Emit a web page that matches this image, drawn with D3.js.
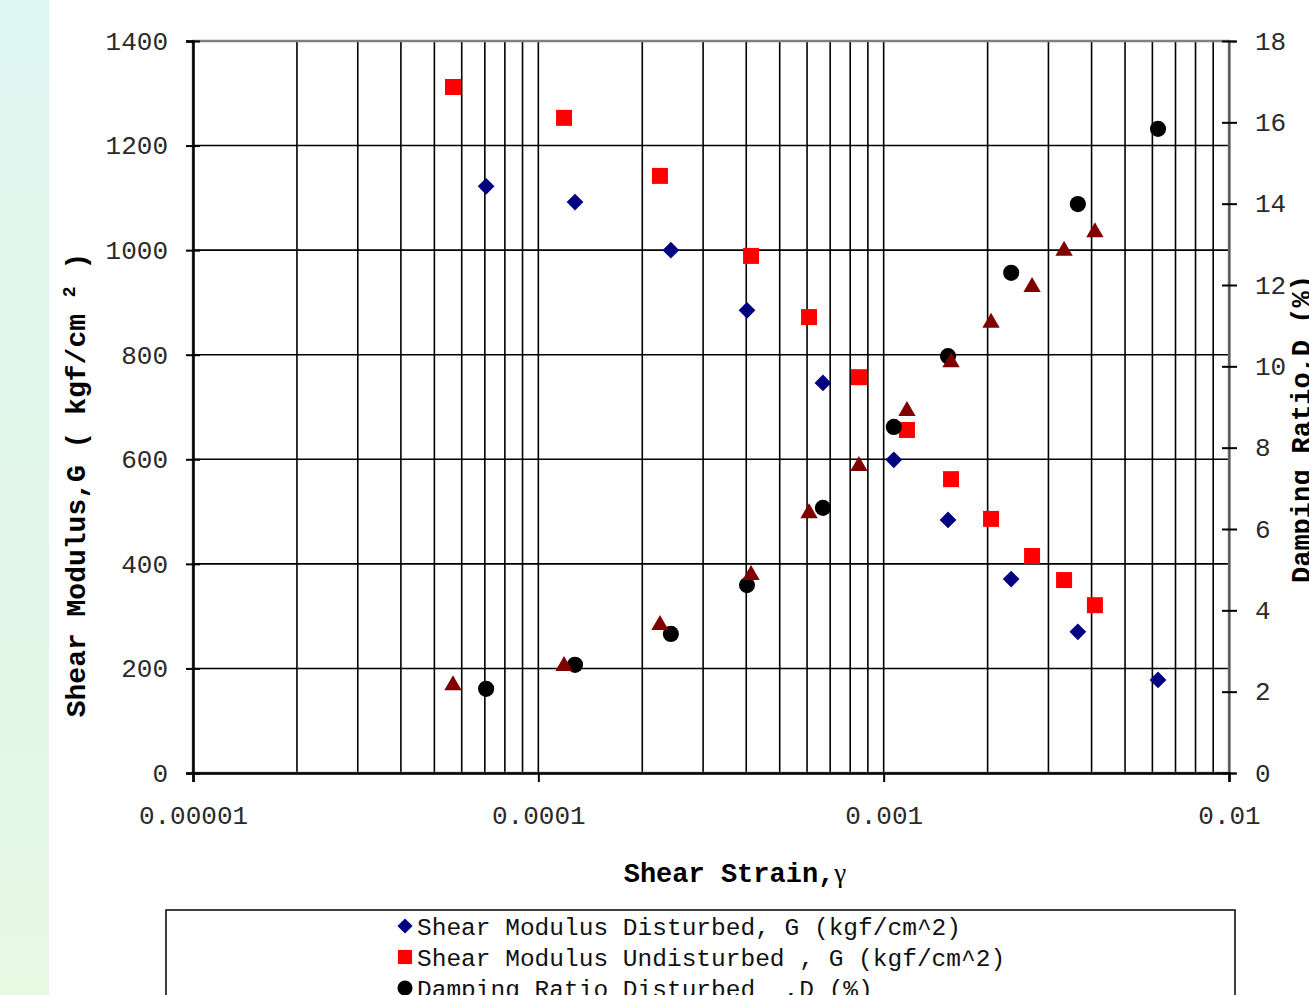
<!DOCTYPE html>
<html>
<head>
<meta charset="utf-8">
<script src="https://cdn.jsdelivr.net/npm/d3@7"></script>
<style>
  body { margin: 0; background: #fff; }
  svg { display: block; font-family: "Liberation Mono", "Courier New", monospace; }
  text { white-space: pre; }
</style>
</head>
<body>
<div id="chart"></div>
<script>
// values
const strainDisturbed = [7.06e-5, 1.277e-4, 2.42e-4, 4.02e-4, 6.67e-4, 1.07e-3, 1.536e-3, 2.34e-3, 3.65e-3, 6.23e-3];
const gDisturbed = [1122, 1092, 1000, 885, 746, 599, 484, 371, 270, 178];
const dDisturbed = [2.07, 2.66, 3.42, 4.62, 6.52, 8.51, 10.25, 12.3, 13.99, 15.84];

const strainUndisturbed = [5.66e-5, 1.187e-4, 2.25e-4, 4.13e-4, 6.08e-4, 8.48e-4, 1.168e-3, 1.567e-3, 2.046e-3, 2.69e-3, 3.33e-3, 4.09e-3];
const gUndisturbed = [1312, 1253, 1142, 989, 872, 757, 656, 562, 486, 415, 369, 321];
const dUndisturbed = [2.16, 2.63, 3.64, 4.87, 6.39, 7.55, 8.9, 10.1, 11.07, 11.95, 12.84, 13.3];

const xTickValues = [1e-5, 1e-4, 1e-3, 1e-2];
const xTickLabels = ["0.00001", "0.0001", "0.001", "0.01"];
const gTicks = [0, 200, 400, 600, 800, 1000, 1200, 1400];
const dTicks = [0, 2, 4, 6, 8, 10, 12, 14, 16, 18];

const seriesNames = [
    "Shear Modulus Disturbed, G (kgf/cm^2)",
    "Shear Modulus Undisturbed , G (kgf/cm^2)",
    "Damping Ratio Disturbed  ,D (%)",
    "Damping Ratio Undisturbed ,D (%)"
];

const width = 1309;
const height = 995;
const marginLeft = 193;
const plotRight = 1229;
const marginTop = 41;
const plotBottom = 773;

const x = d3.scaleLog().domain([1e-5, 1e-2]).range([marginLeft, plotRight]);
const yG = d3.scaleLinear().domain([0, 1400]).range([plotBottom, marginTop]);
const yD = d3.scaleLinear().domain([0, 18]).range([plotBottom, marginTop]);

const svg = d3.select("#chart").append("svg")
    .attr("width", width)
    .attr("height", height)
    .attr("viewBox", [0, 0, width, height]);

// the pale strip on the left edge
const grad = svg.append("defs").append("linearGradient")
    .attr("id", "strip").attr("x1", 0).attr("y1", 0).attr("x2", 0).attr("y2", 1);
grad.append("stop").attr("offset", "0%").attr("stop-color", "#ddf6f0");
grad.append("stop").attr("offset", "100%").attr("stop-color", "#e7f8e3");
svg.append("rect").attr("x", 0).attr("y", 0).attr("width", 49).attr("height", height).attr("fill", "url(#strip)");

// gridlines
svg.append("g")
    .attr("stroke", "#000")
    .attr("stroke-width", 1.6)
    .selectAll("line")
    .data(x.ticks())
    .join("line")
    .attr("x1", d => x(d)).attr("x2", d => x(d))
    .attr("y1", marginTop).attr("y2", plotBottom);

svg.append("g")
    .attr("stroke", "#000")
    .attr("stroke-width", 1.6)
    .selectAll("line")
    .data(gTicks)
    .join("line")
    .attr("x1", marginLeft).attr("x2", plotRight)
    .attr("y1", d => yG(d)).attr("y2", d => yG(d));

// plot area border
svg.append("rect")
    .attr("x", marginLeft).attr("y", marginTop)
    .attr("width", plotRight - marginLeft).attr("height", plotBottom - marginTop)
    .attr("fill", "none").attr("stroke", "#808080").attr("stroke-width", 2.5);

const tickFont = g => g.selectAll("text")
    .attr("font-family", "'Liberation Mono', 'Courier New', monospace")
    .attr("font-size", 26)
    .attr("fill", "#2a2a2a");

// left axis
svg.append("g")
    .attr("transform", `translate(${marginLeft},0)`)
    .call(d3.axisLeft(yG).tickValues(gTicks).tickSize(7).tickPadding(18).tickFormat(d3.format("d")))
    .call(g => g.select(".domain").attr("stroke", "#000").attr("stroke-width", 2.5))
    .call(g => g.selectAll(".tick line").attr("x1", -7).attr("x2", 7).attr("stroke-width", 2))
    .call(tickFont);

// right axis
svg.append("g")
    .attr("transform", `translate(${plotRight},0)`)
    .call(d3.axisRight(yD).tickValues(dTicks).tickSize(7).tickPadding(19).tickFormat(d3.format("d")))
    .call(g => g.select(".domain").attr("stroke", "#555").attr("stroke-width", 2))
    .call(g => g.selectAll(".tick line").attr("x1", -7).attr("x2", 8).attr("stroke-width", 2))
    .call(tickFont);

// bottom axis
svg.append("g")
    .attr("transform", `translate(0,${plotBottom})`)
    .call(d3.axisBottom(x).tickValues(xTickValues).tickSize(9).tickPadding(24)
        .tickFormat((d, i) => xTickLabels[i]))
    .call(g => g.select(".domain").attr("stroke", "#000").attr("stroke-width", 2.5))
    .call(g => g.selectAll(".tick line").attr("stroke-width", 2))
    .call(tickFont);

// axis titles
svg.append("text")
    .attr("x", 735).attr("y", 882)
    .attr("text-anchor", "middle")
    .attr("font-size", 27).attr("font-weight", "bold")
    .text("Shear Strain,")
    .append("tspan").attr("font-family", "'Liberation Serif', serif").attr("font-weight", "normal").text("γ");

const yTitle = svg.append("text")
    .attr("transform", "translate(85,485) rotate(-90)")
    .attr("text-anchor", "middle")
    .attr("font-size", 28).attr("font-weight", "bold");
yTitle.append("tspan").text("Shear Modulus,G ( kgf/cm ");
yTitle.append("tspan").attr("font-size", 18).attr("dy", -10).text("2");
yTitle.append("tspan").attr("dy", 10).text(" )");

svg.append("text")
    .attr("transform", "translate(1310,583) rotate(-90)")
    .attr("text-anchor", "start")
    .attr("font-size", 27).attr("font-weight", "bold")
    .text("Damping Ratio,D (%)");

// markers
const diamond = d3.symbol().type(d3.symbolSquare).size(140);
const square = d3.symbol().type(d3.symbolSquare).size(256);
const circle = d3.symbol().type(d3.symbolCircle).size(205);
const triangle = d3.symbol().type(d3.symbolTriangle).size(130);

const series = [
    { xs: strainDisturbed, ys: gDisturbed, y: yG, sym: diamond, rot: 45, color: "#000080" },
    { xs: strainUndisturbed, ys: gUndisturbed, y: yG, sym: square, rot: 0, color: "#ff0000" },
    { xs: strainDisturbed, ys: dDisturbed, y: yD, sym: circle, rot: 0, color: "#000000" },
    { xs: strainUndisturbed, ys: dUndisturbed, y: yD, sym: triangle, rot: 0, color: "#800000" }
];

for (const s of series) {
    svg.append("g")
        .selectAll("path")
        .data(s.xs.map((v, i) => [v, s.ys[i]]))
        .join("path")
        .attr("d", s.sym)
        .attr("fill", s.color)
        .attr("transform", d => `translate(${x(d[0])},${s.y(d[1])}) rotate(${s.rot})`);
}

// legend (runs off the bottom of the picture)
svg.append("rect")
    .attr("x", 166).attr("y", 910)
    .attr("width", 1069).attr("height", 160)
    .attr("fill", "#fff").attr("stroke", "#000").attr("stroke-width", 1.5);

const legendSymbols = [
    d3.symbol().type(d3.symbolSquare).size(115),
    d3.symbol().type(d3.symbolSquare).size(200),
    d3.symbol().type(d3.symbolCircle).size(180),
    d3.symbol().type(d3.symbolTriangle).size(120)
];

const legend = svg.append("g")
    .selectAll("g")
    .data(series)
    .join("g")
    .attr("transform", (d, i) => `translate(405,${926 + i * 31})`);

legend.append("path")
    .attr("d", (d, i) => legendSymbols[i]())
    .attr("fill", d => d.color)
    .attr("transform", d => `rotate(${d.rot})`);

legend.append("text")
    .attr("x", 12)
    .attr("dy", "0.35em")
    .attr("font-size", 24.5)
    .attr("fill", "#111")
    .text((d, i) => seriesNames[i]);
</script>
</body>
</html>
